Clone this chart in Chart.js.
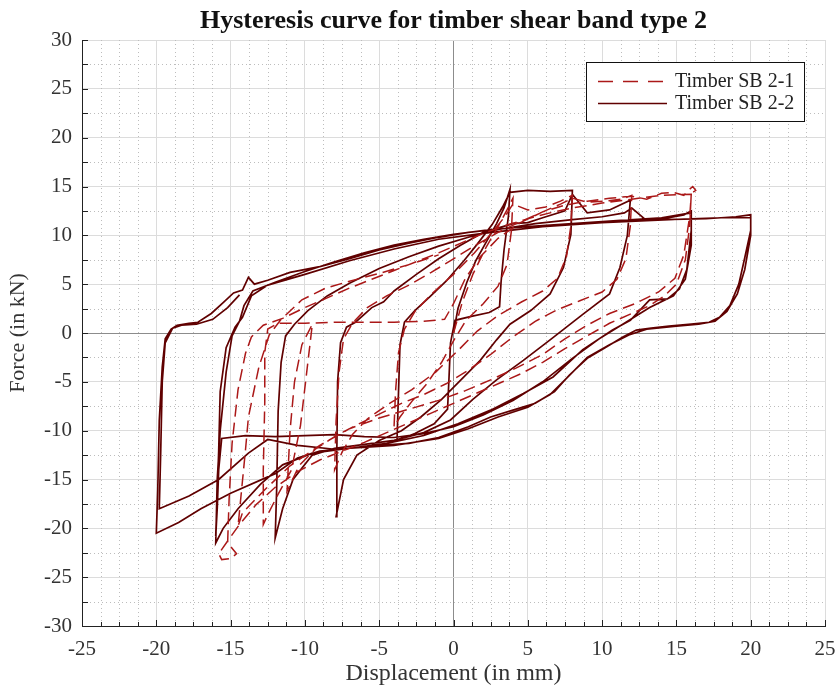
<!DOCTYPE html>
<html lang="en">
<head>
    <meta charset="UTF-8">
    <title>Hysteresis curve for timber shear band type 2</title>
    <script src="https://cdn.jsdelivr.net/npm/chart.js"></script>
    <style>
        body { margin: 0; padding: 0; background: #fff; }
        #wrap { width: 840px; height: 698px; }
    </style>
</head>
<body>
    <div id="wrap"><canvas id="hyst"></canvas></div>

    <script>
        // axis ticks
        const xTicks = [-25, -20, -15, -10, -5, 0, 5, 10, 15, 20, 25];
        const yTicks = [-30, -25, -20, -15, -10, -5, 0, 5, 10, 15, 20, 25, 30];
        const seriesNames = ['Timber SB 2-1', 'Timber SB 2-2'];
        const chartTitle = 'Hysteresis curve for timber shear band type 2';

        // Timber SB 2-1 (dashed) : [displacement mm, force kN]
        const sb21 = [
            [0, 0], [0.6, 3.2], [1.3, 6], [2.2, 8.8], [3, 10.9], [3.6, 12.6], [4, 13.8],
            [3.9, 10.5], [3.6, 7], [3, 4.8], [2, 3], [0.8, 1.2], [0, -0.8], [-0.8, -3], [-1.8, -5.2],
            [-2.8, -7], [-3.6, -8.6], [-4, -9.6],
            [-3.9, -6], [-3.7, -2], [-3.3, 0.4], [-2.6, 2.2], [-1.4, 4.1], [0, 6], [1.4, 8.2],
            [2.6, 10.3], [3.5, 12], [4, 13.2],
            [5, 12.6], [6.2, 12.9], [7.2, 13.5], [8, 14.1],
            [7.9, 11], [7.6, 7.8], [7, 5.6], [6, 4.3], [4.6, 3.2], [3, 1.8], [1.6, 0.2], [0.3, -1.8],
            [-1.2, -4], [-2.8, -5.8], [-4.4, -7.3], [-5.8, -8.8], [-6.8, -10.4], [-7.5, -12.2], [-8, -14],
            [-7.9, -9], [-7.7, -4], [-7.4, -0.6], [-6.8, 1], [-5.8, 2.6], [-4.5, 3.8], [-3, 4.9],
            [-1.5, 6.2], [0, 7.6], [1.5, 9], [3, 10.3], [4.5, 11.4], [6, 12.4], [7.2, 13.2], [8, 13.8],
            [9, 13.4], [10.2, 13.5], [11.3, 13.7], [12, 14.1],
            [11.9, 11], [11.6, 7.6], [11, 5.5], [10, 4.2], [8.5, 3.3], [7, 2.4], [5.5, 1.2], [4, -0.4],
            [2.5, -2.2], [1, -3.8], [-0.5, -5.2], [-2, -6.3], [-3.5, -7.2], [-5, -8.3], [-6.5, -9.4],
            [-8, -10.6], [-9.3, -11.9], [-10.4, -13.6], [-11.2, -16.2], [-11, -10], [-10.7, -5],
            [-10.2, -1.2], [-9.5, 0.9], [-9.8, -3], [-10.3, -9.5], [-10.9, -14], [-11.8, -16.5],
            [-12.5, -18.6], [-12.8, -19.6],
            [-12.8, -14], [-12.7, -7], [-12.7, -2], [-12.5, 0.4], [-11.8, 1], [-10, 1], [-8, 1.1],
            [-6, 1.1], [-4, 1.1], [-2, 1.2], [-0.6, 1.4], [0, 3], [0.8, 5.6], [1.8, 7.8], [3, 9.7],
            [4.5, 11.3], [6, 12.4], [7.5, 13.1], [9, 13.5], [10.5, 13.8], [12, 14],
            [13, 13.7], [14, 14.3], [14.8, 14.4], [15.5, 14.1], [15.8, 14.6], [16.1, 15], [16.3, 14.6], [16, 14.3],
            [15.9, 11], [15.6, 7.5], [15, 5], [14.2, 3.8], [13.2, 2.8], [12, 2], [10.5, 1], [9, -0.3],
            [7.5, -1.6], [6, -3], [4.5, -4.2], [3, -5.2], [1.5, -6.2], [0, -7.2], [-1.5, -8.2],
            [-3, -9.2], [-4.5, -10.2], [-6, -11.2], [-7.5, -12.1], [-9, -13], [-10.5, -14.2],
            [-12, -15.8], [-13.3, -17.6], [-14.4, -19.6], [-15.2, -21.3], [-15.8, -22.6],
            [-15.6, -23.2], [-15, -23.1], [-14.6, -22.6],
            [-15.2, -21.5], [-15.1, -17], [-14.9, -11.3], [-14.5, -5.8], [-14, -2.1], [-13.6, -0.4],
            [-12.8, 0.8], [-11.5, 1.5], [-10, 2.6], [-8.5, 3.6], [-7, 4.6], [-5.5, 5.5], [-4, 6.4],
            [-2.5, 7.3], [-1, 8.2], [0.5, 9.2], [2, 10.2], [3.5, 11], [5, 11.7], [6.5, 12.3],
            [8, 12.8], [10, 13.3], [12, 13.7], [14, 14.1], [16, 14.2],
            [15.9, 12], [15.5, 8], [14.9, 5.6], [13.8, 4.2], [12.2, 3], [10.5, 2], [9, 0.8],
            [7.5, -0.6], [6, -2.2], [4.2, -3.6], [2.5, -4.8], [0.8, -5.9], [-1, -6.9], [-3, -7.8],
            [-5, -8.7], [-7, -9.8], [-9, -11.5], [-11, -13.6], [-12.6, -15.9], [-14.2, -18.4],
            [-14.5, -19.8], [-14, -12], [-13.8, -8.6], [-13.1, -3.5], [-12.4, -0.2], [-11.6, 1.4],
            [-10.2, 3.4], [-8.6, 4.6], [-7, 5.3], [-5, 6.1], [-3, 7], [-1, 8]
        ];

        // Timber SB 2-2 (solid)
        const sb22 = [
            [0, 0], [0.3, 2.5], [0.9, 5.2], [1.5, 7.4], [2.2, 9.3], [2.9, 11.2], [3.4, 12.8], [3.8, 14.7],
            [3.7, 12], [3.4, 8.5], [3.2, 5.2], [3.1, 2.7], [2.4, 2.1], [1.2, 1.7], [0.1, 1.3], [-0.2, -1],
            [-0.3, -4.5], [-0.4, -7.8], [-1.3, -9.3], [-2.6, -10.3], [-3.8, -11],
            [-3.7, -6], [-3.6, -1.2], [-3.3, 1.1], [-2.6, 2.3], [-1.6, 3.7], [-0.5, 5.3], [0.7, 7.4],
            [1.6, 9.1], [2.6, 11.1], [3.3, 12.9], [3.8, 14.4],
            [5, 14.6], [6.5, 14.5], [8, 14.6],
            [7.9, 10.1], [7.4, 6.7], [6.5, 4], [5.2, 2.3], [3.8, 0.9], [2.9, -0.7], [1.8, -2.8],
            [0.5, -4.8], [-0.8, -6.8], [-2.2, -8.6], [-3.5, -10], [-5, -11], [-6.5, -12.5],
            [-7.4, -15], [-7.9, -18.8],
            [-7.85, -12], [-7.8, -5], [-7.6, -1], [-7.2, 0.6], [-6.6, 1.1], [-5.5, 2.6], [-4.7, 3.2],
            [-4, 4.3], [-2.5, 6], [-1, 7.6], [0.5, 9], [2, 10.3], [4, 11.2], [5, 11.3], [6, 11.8],
            [7.5, 12.5], [8, 14.2],
            [9, 12.3], [10.5, 12.6], [11.9, 13.6],
            [11.7, 10], [11.2, 6.7], [10.5, 4], [8.7, 1.9], [7.6, 0.6], [6.5, -0.7], [4.7, -2.8],
            [2.9, -4.8], [1.3, -6.8], [-0.2, -8.9], [-2, -10.2], [-4, -11], [-6, -11.4], [-8, -11.8],
            [-9.5, -12.5], [-10.8, -15], [-11.5, -18], [-12, -21],
            [-11.9, -16], [-11.8, -8], [-11.6, -3], [-11.3, -0.3], [-10.7, 0.9], [-9.8, 2.3],
            [-8.5, 3.8], [-7, 5.1], [-5, 6.6], [-3, 7.8], [-1, 8.9], [1, 9.8], [3, 10.6], [5.5, 11.2],
            [8, 11.6], [10, 11.9], [11.5, 12.3], [12, 12.8],
            [13, 11.5], [14.5, 11.8], [15.5, 12.1], [16, 12.5],
            [16, 10.5], [15.7, 6.5], [15.2, 4.5], [14.4, 3.5], [13.2, 3.4], [11.9, 1.3], [10.7, 0.3],
            [8.7, -1.7], [6.7, -4.5], [4.7, -6.2], [2.5, -7.9], [0.3, -9.3], [-2, -10.5], [-4.5, -11.3],
            [-7, -11.8], [-9.5, -12.3], [-11.5, -13.5], [-13, -15.5], [-14.5, -18], [-15.5, -20], [-16, -21.5],
            [-15.9, -15], [-15.7, -10], [-15.3, -4], [-14.9, -0.3], [-14.4, 1.2], [-14.1, 2.8],
            [-13.5, 4.3], [-12, 5.2], [-10, 6.3], [-8, 7.3], [-6, 8.2], [-4, 9], [-2, 9.6], [0, 10.1],
            [2.5, 10.6], [5, 10.9], [8, 11.2], [11, 11.5], [14, 11.8], [16, 12.3],
            [16, 9], [15.6, 5.5], [14.8, 3.8], [13.2, 2.6], [11.5, 1], [9.8, -0.6], [8, -2.6], [6, -5],
            [4, -6.9], [2, -8.4], [0, -9.6], [-2, -10.3], [-4, -10.7], [-6, -10.6], [-8, -10.4],
            [-10, -10.5], [-12, -10.6], [-14, -10.5], [-15.6, -10.8], [-15.8, -14], [-15.9, -18], [-16, -20.8],
            [-15.8, -12], [-15.7, -6], [-15.3, -1.5], [-14.7, 0.6], [-14.2, 1.6], [-13.6, 3.8],
            [-12.5, 4.9], [-10, 6], [-7, 7.4], [-4, 8.6], [-1, 9.6], [2, 10.2], [6, 10.9], [10, 11.3],
            [14, 11.6], [17, 11.7], [19, 11.9], [20, 12.1],
            [20, 10.5], [19.6, 7.7], [19.2, 5], [18.6, 2.8], [17.9, 1.6], [17.2, 1.1], [16, 0.9],
            [14.5, 0.7], [13.3, 0.5], [12.3, 0.3], [11.4, -0.4], [10.2, -1.5], [9, -2.6], [7.8, -4.3],
            [6.8, -6], [5.5, -7.2], [4, -7.9], [2.5, -8.6], [1, -9.6], [-1, -10.7], [-3, -11.3],
            [-5, -11.5], [-7, -11.8], [-9, -12.1], [-10.5, -12.8], [-12, -14.4], [-15, -16.4],
            [-17, -18], [-18.5, -19.4], [-20, -20.5],
            [-19.9, -16], [-19.8, -9], [-19.6, -3.5], [-19.4, -0.6], [-19, 0.4], [-18.6, 0.8],
            [-17.8, 1], [-17.2, 1.1], [-16.3, 2], [-15.5, 3.1], [-14.8, 4.1], [-14.2, 4.4],
            [-13.8, 5.7], [-13.4, 5], [-12.5, 5.4], [-11, 6.2], [-9, 6.8], [-7, 7.6], [-5, 8.5],
            [-3, 9.2], [-1, 9.8], [1, 10.3], [4, 10.8], [7, 11.1], [10, 11.3], [13, 11.5], [16, 11.7],
            [18, 11.8], [20, 11.8],
            [20, 10], [19.6, 6.5], [19.1, 4], [18.4, 2.2], [17.6, 1.2], [16.5, 0.9], [15, 0.7],
            [13, 0.4], [11.8, -0.2], [10.5, -1.2], [9, -2.5], [7.5, -4.8], [6.5, -6.3], [5, -7.6],
            [3, -8.6], [1, -9.8], [-1, -10.8], [-4, -11.5], [-8, -11.9], [-10.5, -11.5], [-12.5, -10.9],
            [-13.8, -12.3], [-15.8, -15], [-17.8, -16.7], [-19.8, -18],
            [-19.7, -12], [-19.6, -5], [-19.4, -1], [-18.9, 0.5], [-18.3, 0.8], [-17.3, 0.9],
            [-16.2, 1.4], [-15.2, 2.6], [-14.4, 3.9]
        ];

        const toPoints = arr => arr.map(p => ({ x: p[0], y: p[1] }));

        const serif = "'Liberation Serif', 'DejaVu Serif', serif";
        const dashColor = '#ab1818';
        const solidColor = '#600000';

        // minor dotted grid, inward ticks, title over the plot, legend box
        const matlabAxes = {
            id: 'matlabAxes',
            beforeDatasetsDraw(chart) {
                const { ctx, chartArea: a, scales: { x, y } } = chart;
                ctx.save();
                ctx.lineWidth = 1;
                ctx.strokeStyle = '#bdbdbd';
                ctx.setLineDash([1, 3]);
                for (let i = 0; i <= 40; i++) {
                    if (i % 4 === 0) continue;
                    const px = Math.round(x.getPixelForValue(-25 + i * 1.25)) + 0.5;
                    ctx.beginPath(); ctx.moveTo(px, a.top); ctx.lineTo(px, a.bottom); ctx.stroke();
                }
                for (let v = -27.5; v <= 30; v += 5) {
                    const py = Math.round(y.getPixelForValue(v)) + 0.5;
                    ctx.beginPath(); ctx.moveTo(a.left, py); ctx.lineTo(a.right, py); ctx.stroke();
                }
                ctx.setLineDash([]);
                ctx.strokeStyle = '#222';
                for (let i = 0; i <= 40; i++) {
                    const px = Math.round(x.getPixelForValue(-25 + i * 1.25)) + 0.5;
                    ctx.beginPath(); ctx.moveTo(px, a.bottom); ctx.lineTo(px, a.bottom - (i % 4 === 0 ? 6 : 4)); ctx.stroke();
                }
                for (let v = -30; v <= 30; v += 2.5) {
                    const py = Math.round(y.getPixelForValue(v)) + 0.5;
                    ctx.beginPath(); ctx.moveTo(a.left, py); ctx.lineTo(a.left + 6, py); ctx.stroke();
                }
                ctx.restore();
            },
            afterDraw(chart) {
                const { ctx, chartArea: a } = chart;
                ctx.save();
                ctx.fillStyle = '#111';
                ctx.font = 'bold 26px ' + serif;
                ctx.textAlign = 'center';
                ctx.textBaseline = 'alphabetic';
                ctx.fillText(chartTitle, (a.left + a.right) / 2, 28);

                const bx = 586, by = 62, bw = 218, bh = 59;
                ctx.fillStyle = '#fff';
                ctx.fillRect(bx, by, bw, bh);
                ctx.strokeStyle = '#111';
                ctx.lineWidth = 1;
                ctx.strokeRect(bx + 0.5, by + 0.5, bw, bh);
                const rows = [by + 19, by + 41];
                ctx.lineWidth = 1.4;
                ctx.strokeStyle = dashColor;
                ctx.setLineDash([15, 10]);
                ctx.beginPath(); ctx.moveTo(bx + 12, rows[0] + 0.5); ctx.lineTo(bx + 81, rows[0] + 0.5); ctx.stroke();
                ctx.setLineDash([]);
                ctx.strokeStyle = solidColor;
                ctx.beginPath(); ctx.moveTo(bx + 12, rows[1] + 0.5); ctx.lineTo(bx + 81, rows[1] + 0.5); ctx.stroke();
                ctx.fillStyle = '#222';
                ctx.font = '20px ' + serif;
                ctx.textAlign = 'left';
                ctx.textBaseline = 'middle';
                ctx.fillText(seriesNames[0], bx + 89, rows[0] + 1);
                ctx.fillText(seriesNames[1], bx + 89, rows[1] + 1);
                ctx.restore();
            }
        };

        const gridColor = c => (c.tick && c.tick.value === 0) ? '#8c8c8c' : '#dcdcdc';

        new Chart(document.getElementById('hyst'), {
            type: 'scatter',
            data: {
                datasets: [
                    {
                        label: seriesNames[0],
                        data: toPoints(sb21),
                        showLine: true,
                        borderColor: dashColor,
                        borderWidth: 1.5,
                        borderDash: [12, 6],
                        pointRadius: 0,
                        tension: 0
                    },
                    {
                        label: seriesNames[1],
                        data: toPoints(sb22),
                        showLine: true,
                        borderColor: solidColor,
                        borderWidth: 1.7,
                        pointRadius: 0,
                        tension: 0
                    }
                ]
            },
            options: {
                responsive: true,
                maintainAspectRatio: false,
                animation: false,
                layout: { padding: { left: 0, right: 15, top: 40, bottom: 0 } },
                scales: {
                    x: {
                        type: 'linear',
                        min: -25,
                        max: 25,
                        afterBuildTicks: s => { s.ticks = xTicks.map(v => ({ value: v })); },
                        afterFit: s => { s.height = 72; s.paddingRight = 0; s.paddingLeft = 0; },
                        ticks: { font: { family: serif, size: 21 }, color: '#333', padding: 11, maxRotation: 0 },
                        grid: { color: gridColor, drawTicks: false },
                        border: { display: true, color: '#222', width: 1 },
                        title: { display: true, text: 'Displacement (in mm)', font: { family: serif, size: 24 }, color: '#333', padding: { top: 0, bottom: 10 } }
                    },
                    y: {
                        type: 'linear',
                        min: -30,
                        max: 30,
                        afterBuildTicks: s => { s.ticks = yTicks.map(v => ({ value: v })); },
                        afterFit: s => { s.width = 82; },
                        ticks: { font: { family: serif, size: 21 }, color: '#333', padding: 10 },
                        grid: { color: gridColor, drawTicks: false },
                        border: { display: true, color: '#222', width: 1 },
                        title: { display: true, text: 'Force (in kN)', font: { family: serif, size: 22 }, color: '#333', padding: { top: 5, bottom: 0 } }
                    }
                },
                plugins: {
                    legend: { display: false },
                    tooltip: { enabled: false },
                    title: { display: false }
                }
            },
            plugins: [matlabAxes]
        });
    </script>
</body>
</html>
